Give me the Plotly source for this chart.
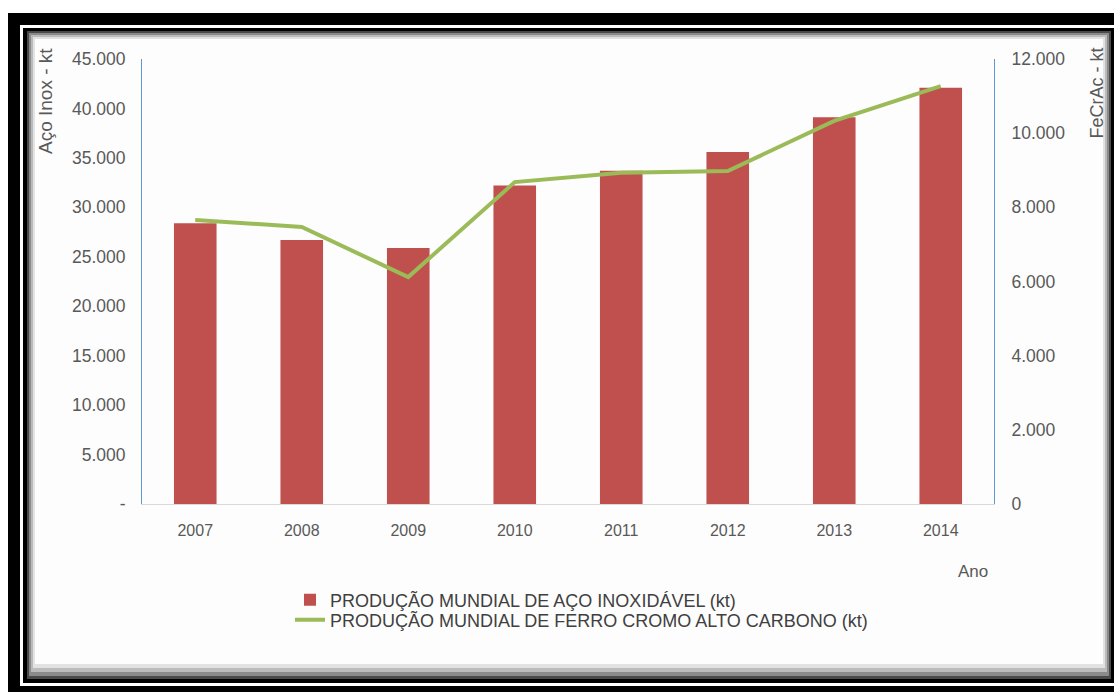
import plotly.graph_objects as go

# ---- data ----
years = ["2007", "2008", "2009", "2010", "2011", "2012", "2013", "2014"]
aco_inox = [28400, 26700, 25900, 32200, 33700, 35600, 39100, 42100]
fecrac = [7660, 7470, 6120, 8680, 8930, 8980, 10330, 11270]

left_tick_vals = [0, 5000, 10000, 15000, 20000, 25000, 30000, 35000, 40000, 45000]
left_tick_text = ["-", "5.000", "10.000", "15.000", "20.000", "25.000", "30.000", "35.000", "40.000", "45.000"]
right_tick_vals = [0, 2000, 4000, 6000, 8000, 10000, 12000]
right_tick_text = ["0", "2.000", "4.000", "6.000", "8.000", "10.000", "12.000"]

name_bar = "PRODUÇÃO MUNDIAL DE AÇO INOXIDÁVEL (kt)"
name_line = "PRODUÇÃO MUNDIAL DE FERRO CROMO ALTO CARBONO (kt)"

W, H = 1114, 692
L, R, T, B = 142, 994, 59, 504


def X(px):
    return (px - L) / (R - L)


def Y(py):
    return (B - py) / (B - T)


FONT = "Liberation Sans, Arial, sans-serif"
GREY = "#595959"

fig = go.Figure()
fig.add_trace(go.Bar(
    x=years, y=aco_inox, name=name_bar, marker_color="#C0504D",
    marker_line_width=0, width=0.4, yaxis="y", legend="legend",
))
fig.add_trace(go.Scatter(
    x=years, y=fecrac, name=name_line, mode="lines",
    line=dict(color="#9BBB59", width=4), yaxis="y2", legend="legend2",
))

# frame decoration
frame = [
    ((8, 13, 1120, 700), "#000000"),
    ((20, 25, 1120, 686), "#ffffff"),
    ((23, 28, 1120, 683), "#000000"),
    ((27, 31, 1111, 679), "#4a4a4a"),
    ((29, 33, 1109, 676), "#8a8a8a"),
    ((31, 35, 1107, 672), "#bbbbbb"),
    ((33, 37, 1105, 668), "#e2e2e2"),
    ((35, 39, 1103, 664), "#fdfdfd"),
]
shapes = []
for (x0, y0, x1, y1), c in frame:
    shapes.append(dict(type="rect", xref="paper", yref="paper",
                       x0=X(x0), x1=X(x1), y0=Y(y1), y1=Y(y0),
                       fillcolor=c, line_width=0, layer="below"))

annotations = [
    dict(text="Aço Inox - kt", textangle=-90, xref="paper", yref="paper",
         x=X(45), y=Y(46), xanchor="center", yanchor="top", showarrow=False,
         font=dict(family=FONT, size=19, color=GREY)),
    dict(text="FeCrAc - kt", textangle=-90, xref="paper", yref="paper",
         x=X(1096), y=Y(46), xanchor="center", yanchor="top", showarrow=False,
         font=dict(family=FONT, size=18, color=GREY)),
    dict(text="Ano", xref="paper", yref="paper",
         x=X(973), y=Y(571), xanchor="center", yanchor="middle", showarrow=False,
         font=dict(family=FONT, size=17, color=GREY)),
]

legend_common = dict(
    xanchor="left", yanchor="middle", orientation="v",
    bgcolor="rgba(0,0,0,0)",
    font=dict(family=FONT, size=18, color="#404040"),
)

fig.update_layout(
    width=W, height=H,
    margin=dict(l=L, r=W - R, t=T, b=H - B, pad=0),
    paper_bgcolor="#ffffff",
    plot_bgcolor="rgba(0,0,0,0)",
    font=dict(family=FONT, color=GREY),
    shapes=shapes,
    annotations=annotations,
    showlegend=True,
    legend=dict(x=X(290), y=Y(600), **legend_common),
    legend2=dict(x=X(290), y=Y(620), **legend_common),
    xaxis=dict(
        type="category", showgrid=False, zeroline=False,
        showline=True, linecolor="#d9d9d9", linewidth=1,
        ticks="", ticklabelstandoff=12,
        tickfont=dict(family=FONT, size=16, color=GREY),
    ),
    yaxis=dict(
        range=[0, 45000], tickvals=left_tick_vals, ticktext=left_tick_text,
        showgrid=False, zeroline=False, showline=True,
        linecolor="#5B9BD5", linewidth=1, ticks="", ticklabelstandoff=12,
        tickfont=dict(family=FONT, size=17.5, color=GREY),
    ),
    yaxis2=dict(
        range=[0, 12000], tickvals=right_tick_vals, ticktext=right_tick_text,
        overlaying="y", side="right",
        showgrid=False, zeroline=False, showline=True,
        linecolor="#5B9BD5", linewidth=1, ticks="", ticklabelstandoff=13,
        tickfont=dict(family=FONT, size=17.5, color=GREY),
    ),
    bargap=0.6,
)

fig.write_html("out.html")
